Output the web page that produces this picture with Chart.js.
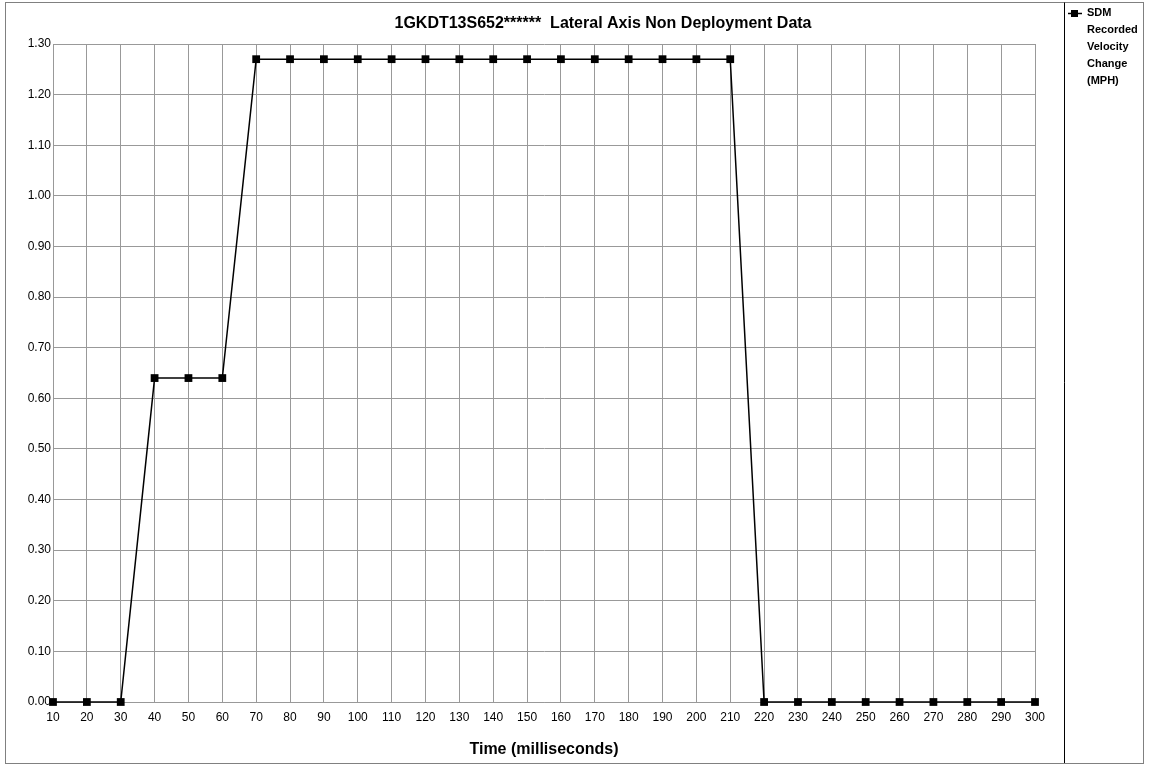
<!DOCTYPE html>
<html lang="en">
<head>
    <meta charset="UTF-8">
    <title>Lateral Axis Non Deployment Data</title>
    <style>
        body { margin: 0; background: #fff; }
        canvas { display: block; }
    </style>
</head>
<body>
    <canvas id="chart" width="1154" height="765"></canvas>
    <script src="https://cdn.jsdelivr.net/npm/chart.js"></script>
    <script>
        const chartTitle = '1GKDT13S652******  Lateral Axis Non Deployment Data';
        const xTitle = 'Time (milliseconds)';
        const seriesName = ['SDM', 'Recorded', 'Velocity', 'Change', '(MPH)'];
        const times = [10, 20, 30, 40, 50, 60, 70, 80, 90, 100, 110, 120, 130, 140, 150,
                       160, 170, 180, 190, 200, 210, 220, 230, 240, 250, 260, 270, 280, 290, 300];
        const velocity = [0, 0, 0, 0.64, 0.64, 0.64, 1.27, 1.27, 1.27, 1.27, 1.27, 1.27, 1.27, 1.27, 1.27,
                          1.27, 1.27, 1.27, 1.27, 1.27, 1.27, 0, 0, 0, 0, 0, 0, 0, 0, 0];

        // frame, title and legend drawn by hand
        const decor = {
            id: 'decor',
            afterDraw(chart) {
                const ctx = chart.ctx;
                ctx.save();
                ctx.strokeStyle = '#808080';
                ctx.lineWidth = 1;
                ctx.strokeRect(5.5, 2.5, 1138, 761);
                ctx.strokeStyle = '#000';
                ctx.beginPath();
                ctx.moveTo(1064.5, 2.5);
                ctx.lineTo(1064.5, 763);
                ctx.stroke();

                ctx.fillStyle = '#000';
                ctx.font = 'bold 16px Arial, "Liberation Sans", sans-serif';
                ctx.textAlign = 'center';
                ctx.textBaseline = 'middle';
                ctx.fillText(chartTitle, 603, 24);

                // legend
                ctx.lineWidth = 1.5;
                ctx.beginPath();
                ctx.moveTo(1068, 13.5);
                ctx.lineTo(1082, 13.5);
                ctx.stroke();
                ctx.fillRect(1071, 10, 7, 7);
                ctx.font = 'bold 11px Arial, "Liberation Sans", sans-serif';
                ctx.textAlign = 'left';
                seriesName.forEach((t, i) => ctx.fillText(t, 1087, 13 + i * 17));
                ctx.restore();
            }
        };

        new Chart(document.getElementById('chart'), {
            type: 'line',
            data: {
                labels: times,
                datasets: [{
                    label: seriesName.join(' '),
                    data: velocity,
                    borderColor: '#000',
                    borderWidth: 1.5,
                    backgroundColor: '#000',
                    pointStyle: 'rect',
                    pointRadius: 5.5,
                    pointBorderWidth: 0,
                    tension: 0,
                    clip: false
                }]
            },
            options: {
                responsive: false,
                animation: false,
                layout: { padding: { top: 44, left: 0, right: 119, bottom: 0 } },
                plugins: {
                    legend: { display: false },
                    title: { display: false },
                    tooltip: { enabled: false }
                },
                scales: {
                    x: {
                        offset: false,
                        grid: { color: '#999', drawTicks: false },
                        border: { color: '#999' },
                        ticks: {
                            padding: 8,
                            color: '#000',
                            maxRotation: 0,
                            autoSkip: false,
                            font: { family: 'Arial, "Liberation Sans", sans-serif', size: 12 }
                        },
                        title: {
                            display: true,
                            text: xTitle,
                            color: '#000',
                            padding: { top: 4, bottom: 6 },
                            font: { family: 'Arial, "Liberation Sans", sans-serif', size: 16, weight: 'bold' }
                        },
                        afterFit(s) { s.height = 63; }
                    },
                    y: {
                        min: 0,
                        max: 1.3,
                        grid: { color: '#999', drawTicks: false },
                        border: { color: '#999' },
                        ticks: {
                            stepSize: 0.1,
                            padding: 2,
                            color: '#000',
                            font: { family: 'Arial, "Liberation Sans", sans-serif', size: 12 },
                            callback: v => Number(v).toFixed(2)
                        },
                        afterFit(s) { s.width = 53; }
                    }
                }
            },
            plugins: [decor]
        });
    </script>
</body>
</html>
